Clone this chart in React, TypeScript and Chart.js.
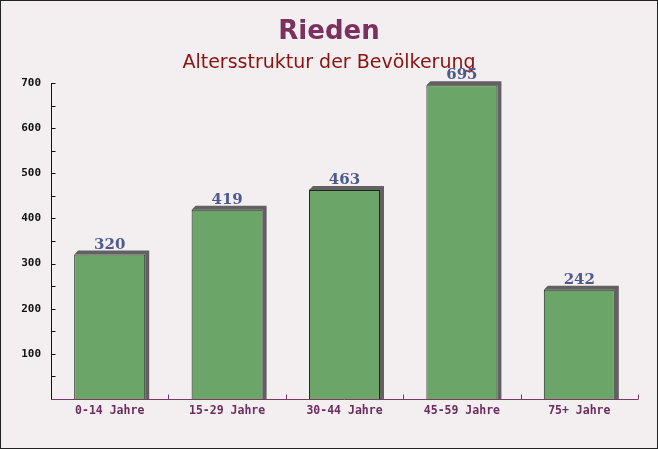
import React, { useEffect, useRef } from "react";
import { Chart, registerables } from "chart.js";

Chart.register(...registerables);

const categories = ["0-14 Jahre", "15-29 Jahre", "30-44 Jahre", "45-59 Jahre", "75+ Jahre"];
const values = [320, 419, 463, 695, 242];
const yTickValues = [100, 200, 300, 400, 500, 600, 700];

const SHADOW = 4;

const backgroundPlugin = {
  id: "bg",
  beforeDraw(chart: any) {
    const { ctx, width, height } = chart;
    ctx.save();
    ctx.fillStyle = "#f3eff1";
    ctx.fillRect(0, 0, width, height);
    ctx.strokeStyle = "#222";
    ctx.lineWidth = 1;
    ctx.strokeRect(0.5, 0.5, width - 1, height - 1);
    ctx.restore();
  },
};

const shadowPlugin = {
  id: "shadow",
  beforeDatasetsDraw(chart: any) {
    const { ctx } = chart;
    const meta = chart.getDatasetMeta(0);
    ctx.save();
    ctx.fillStyle = "#626062";
    meta.data.forEach((bar: any) => {
      const p = bar.getProps(["x", "y", "base", "width"], true);
      const left = p.x - p.width / 2;
      ctx.beginPath();
      ctx.moveTo(left, p.y);
      ctx.lineTo(left + SHADOW, p.y - SHADOW);
      ctx.lineTo(left + p.width + SHADOW, p.y - SHADOW);
      ctx.lineTo(left + p.width + SHADOW, p.base);
      ctx.lineTo(left + p.width, p.base);
      ctx.lineTo(left + p.width, p.y);
      ctx.closePath();
      ctx.fill();
    });
    ctx.restore();
  },
  afterDatasetsDraw(chart: any) {
    const { ctx } = chart;
    const meta = chart.getDatasetMeta(0);
    ctx.save();
    ctx.fillStyle = "#4d5a8d";
    ctx.font = "bold 15px 'DejaVu Serif'";
    ctx.textAlign = "center";
    ctx.textBaseline = "alphabetic";
    meta.data.forEach((bar: any, i: number) => {
      const p = bar.getProps(["x", "y"], true);
      ctx.fillText(String(values[i]), p.x, p.y - SHADOW - 2);
    });
    ctx.restore();
  },
};

const axesPlugin = {
  id: "axesCustom",
  afterDraw(chart: any) {
    const { ctx, chartArea } = chart;
    const yScale = chart.scales.y;
    const xScale = chart.scales.x;
    ctx.save();
    ctx.lineWidth = 1;
    ctx.strokeStyle = "#111";
    const ax = Math.round(chartArea.left) + 0.5;
    ctx.beginPath();
    ctx.moveTo(ax, chartArea.top);
    ctx.lineTo(ax, chartArea.bottom);
    for (let v = 50; v <= 700; v += 50) {
      const py = Math.round(yScale.getPixelForValue(v)) + 0.5;
      ctx.moveTo(ax, py);
      ctx.lineTo(ax + 4, py);
    }
    ctx.stroke();
    ctx.strokeStyle = "#7a3a62";
    const by = Math.round(chartArea.bottom) + 0.5;
    ctx.beginPath();
    ctx.moveTo(chartArea.left, by);
    ctx.lineTo(chartArea.right, by);
    const n = categories.length;
    for (let i = 1; i <= n; i++) {
      const px = Math.round(xScale.getPixelForValue(i - 0.5)) + 0.5;
      ctx.moveTo(px, by);
      ctx.lineTo(px, by - 5);
    }
    ctx.stroke();
    ctx.restore();
  },
};

export default function App() {
  const ref = useRef<HTMLCanvasElement | null>(null);
  useEffect(() => {
    if (!ref.current) return;
    const chart = new Chart(ref.current, {
      type: "bar",
      data: {
        labels: categories,
        datasets: [
          {
            data: values,
            backgroundColor: "rgba(100,160,96,0.95)",
            borderColor: "#1e2a1e",
            borderWidth: 1,
            barPercentage: 0.605,
            categoryPercentage: 1,
          },
        ],
      },
      options: {
        responsive: false,
        animation: false,
        devicePixelRatio: 1,
        layout: { padding: 0 },
        plugins: {
          legend: { display: false },
          tooltip: { enabled: false },
          title: {
            display: true,
            text: "Rieden",
            color: "#7b3060",
            font: { family: "'DejaVu Sans'", size: 26, weight: "bold", lineHeight: 1.2 },
            padding: { top: 17, bottom: 3 },
          },
          subtitle: {
            display: true,
            text: "Altersstruktur der Bevölkerung",
            color: "#8b1212",
            font: { family: "'DejaVu Sans'", size: 19, lineHeight: 1.2 },
            padding: { top: 0, bottom: 9 },
          },
        },
        scales: {
          x: {
            grid: { display: false, drawTicks: false },
            border: { display: false },
            ticks: {
              color: "#6b2d5c",
              font: { family: "'DejaVu Sans Mono'", size: 11.5, weight: "bold" },
              padding: 5,
              maxRotation: 0,
            },
            afterFit(scale: any) {
              scale.height = 50;
            },
          },
          y: {
            min: 0,
            max: 700,
            grid: { display: false, drawTicks: false },
            border: { display: false },
            afterBuildTicks(scale: any) {
              scale.ticks = yTickValues.map((v) => ({ value: v }));
            },
            ticks: {
              color: "#111",
              font: { family: "'DejaVu Sans Mono'", size: 11, weight: "bold" },
              padding: 10,
            },
            afterFit(scale: any) {
              scale.width = 51;
            },
          },
          yRight: {
            position: "right",
            min: 0,
            max: 700,
            grid: { display: false, drawTicks: false },
            border: { display: false },
            ticks: { display: false },
            afterFit(scale: any) {
              scale.width = 20;
            },
          },
        },
      },
      plugins: [backgroundPlugin, shadowPlugin, axesPlugin],
    });
    return () => chart.destroy();
  }, []);
  return (
    <div style={{ position: "absolute", left: 0, top: 0, width: 658, height: 449 }}>
      <canvas ref={ref} width={658} height={449} style={{ width: 658, height: 449, display: "block" }} />
    </div>
  );
}
